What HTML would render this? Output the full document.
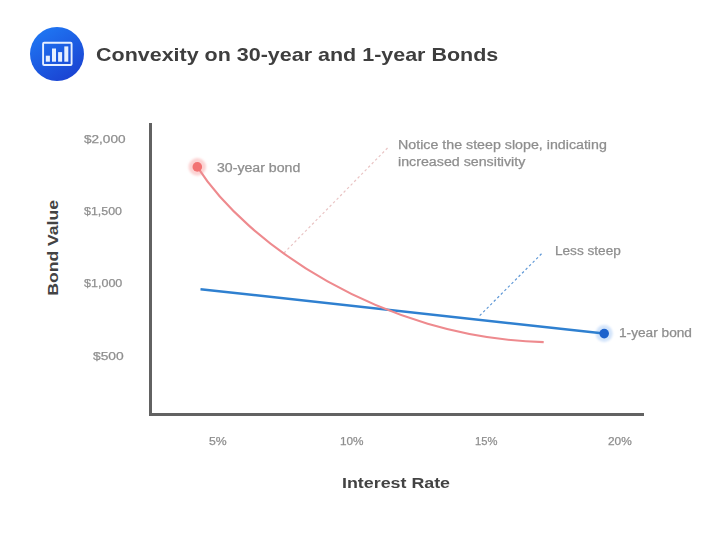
<!DOCTYPE html>
<html>
<head>
<meta charset="utf-8">
<style>
html,body{margin:0;padding:0;background:#fff;}
body{width:720px;height:533px;position:relative;overflow:hidden;font-family:"Liberation Sans",sans-serif;}
.t{position:absolute;white-space:nowrap;line-height:1;transform-origin:0 0;}
#title{left:96px;top:45.8px;font-size:18.5px;font-weight:bold;color:#3e3e3e;transform:scaleX(1.161);}
.yl{color:#8e8e8e;-webkit-text-stroke:0.25px #8e8e8e;font-size:11.5px;text-align:right;width:60px;}
.xl{color:#8e8e8e;-webkit-text-stroke:0.25px #8e8e8e;font-size:11px;}
.ann{color:#8e8e8e;-webkit-text-stroke:0.25px #8e8e8e;font-size:12px;}
.ax{color:#434343;font-size:14px;font-weight:bold;}
svg{position:absolute;left:0;top:0;}
</style>
</head>
<body>
<svg width="720" height="533" viewBox="0 0 720 533">
  <defs>
    <linearGradient id="ig" x1="0.2" y1="0" x2="0.8" y2="1">
      <stop offset="0" stop-color="#1f78f4"/>
      <stop offset="1" stop-color="#1a40d0"/>
    </linearGradient>
  </defs>
  <!-- icon -->
  <circle cx="57" cy="54" r="27" fill="url(#ig)"/>
  <rect x="43.1" y="42.8" width="28.5" height="22.2" rx="1" fill="none" stroke="#e6efff" stroke-width="1.9"/>
  <rect x="45.8" y="55.7" width="4.1" height="6" fill="#e6efff"/>
  <rect x="52" y="48.5" width="4" height="13.2" fill="#e6efff"/>
  <rect x="58.1" y="52.1" width="4" height="9.6" fill="#e6efff"/>
  <rect x="64.3" y="46.4" width="4" height="15.3" fill="#e6efff"/>

  <!-- axes -->
  <path d="M150.5,123 V414.5 H644" fill="none" stroke="#626262" stroke-width="3"/>

  <filter id="bl" x="-50%" y="-50%" width="200%" height="200%"><feGaussianBlur stdDeviation="1.1"/></filter>
  <filter id="bl2" x="-50%" y="-50%" width="200%" height="200%"><feGaussianBlur stdDeviation="0.5"/></filter>
  <!-- halos -->
  <circle cx="197.3" cy="166.9" r="8.8" fill="#fcd3d3" filter="url(#bl)"/>
  <circle cx="604.2" cy="333.6" r="8.5" fill="#d3e4fa" filter="url(#bl)"/>

  <!-- dashed leaders -->
  <line x1="284" y1="253" x2="388" y2="147.5" stroke="#e9c4c4" stroke-width="1.2" stroke-dasharray="2.5,2.5"/>
  <line x1="479.7" y1="315.7" x2="542.5" y2="252.8" stroke="#5f98d6" stroke-width="1.2" stroke-dasharray="2.5,2.5"/>

  <!-- blue line -->
  <line x1="200.5" y1="289.2" x2="604" y2="333.6" stroke="#2f80d0" stroke-width="2.5"/>
  <!-- red curve -->
  <path d="M197.3,166.9 C245.7,242.6 380.8,338.1 543.7,342.1" fill="none" stroke="#ee8a8e" stroke-width="2.1"/>

  <!-- dots -->
  <circle cx="197.3" cy="166.9" r="4.8" fill="#f27373" filter="url(#bl2)"/>
  <circle cx="604.2" cy="333.6" r="4.8" fill="#1d62cc" filter="url(#bl2)"/>
</svg>

<div class="t" id="title">Convexity on 30-year and 1-year Bonds</div>

<div class="t" style="left:84px;top:134px;color:#8e8e8e;-webkit-text-stroke:0.25px #8e8e8e;font-size:11.5px;transform:scaleX(1.18);">$2,000</div>
<div class="t" style="left:84px;top:206px;color:#8e8e8e;-webkit-text-stroke:0.25px #8e8e8e;font-size:11.5px;transform:scaleX(1.08);">$1,500</div>
<div class="t" style="left:84px;top:278px;color:#8e8e8e;-webkit-text-stroke:0.25px #8e8e8e;font-size:11.5px;transform:scaleX(1.09);">$1,000</div>
<div class="t" style="left:93px;top:351px;color:#8e8e8e;-webkit-text-stroke:0.25px #8e8e8e;font-size:11.5px;transform:scaleX(1.2);">$500</div>

<div class="t ax" style="left:0;top:0;transform:translate(45.65px,295.8px) rotate(-90deg) scaleX(1.256);">Bond Value</div>

<div class="t xl" style="left:209px;top:436px;transform:scaleX(1.113);">5%</div>
<div class="t xl" style="left:339.5px;top:436px;transform:scaleX(1.071);">10%</div>
<div class="t xl" style="left:474.5px;top:436px;transform:scaleX(1.02);">15%</div>
<div class="t xl" style="left:608px;top:436px;transform:scaleX(1.077);">20%</div>

<div class="t ax" style="left:342px;top:476px;transform:scaleX(1.274);">Interest Rate</div>

<div class="t ann" style="left:217px;top:161.5px;transform:scaleX(1.178);">30-year bond</div>
<div class="t ann" style="left:397.5px;top:136.6px;line-height:17px;transform:scaleX(1.186);">Notice the steep slope, indicating<br>increased sensitivity</div>
<div class="t ann" style="left:554.5px;top:245px;transform:scaleX(1.133);">Less steep</div>
<div class="t ann" style="left:619px;top:327px;transform:scaleX(1.139);">1-year bond</div>
</body>
</html>
